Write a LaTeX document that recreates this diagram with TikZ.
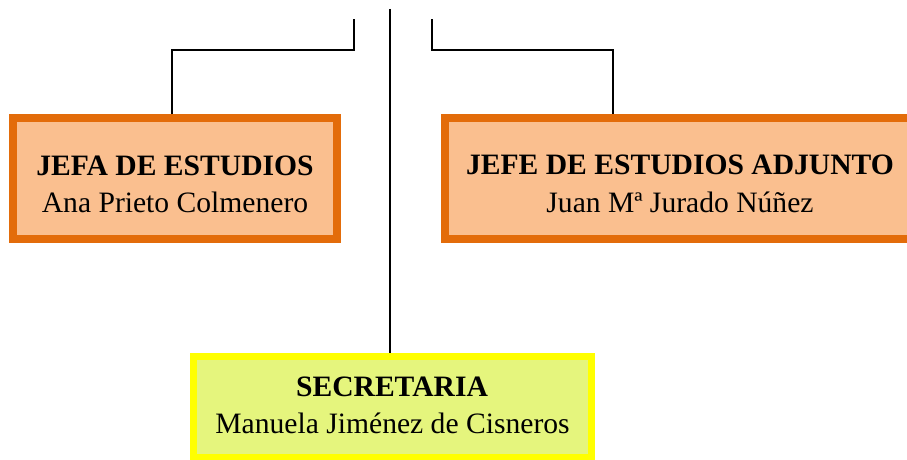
\documentclass[tikz,border=0pt]{standalone}
\usepackage{fontspec}
\setmainfont{Liberation Serif}
\definecolor{orbord}{HTML}{E36C0A}
\definecolor{orfill}{HTML}{FABF8F}
\definecolor{ylbord}{HTML}{FFFF00}
\definecolor{ylfill}{HTML}{E5F57D}
\tikzset{
  orbox/.style={draw=orbord, fill=orfill, line width=8pt, rectangle, inner sep=0pt},
  ylbox/.style={draw=ylbord, fill=ylfill, line width=7pt, rectangle, inner sep=0pt},
  ttl/.style={font=\fontsize{29.6}{35}\selectfont\bfseries, anchor=base, inner sep=0pt},
  nm/.style={font=\fontsize{29.6}{35}\selectfont, anchor=base, inner sep=0pt},
  conn/.style={draw=black, line width=1.5pt}
}
\begin{document}
\begin{tikzpicture}[x=1pt,y=1pt]
\useasboundingbox (0,0) rectangle (907,459);
% boxes (y = 459 - pixel y)
\node[orbox, minimum width=324pt, minimum height=121pt] (lb) at (175,280.5) {};
\node[orbox, minimum width=470pt, minimum height=121pt] (rb) at (680,280.5) {};
\node[ylbox, minimum width=398pt, minimum height=101pt] (sb) at (392.5,52.5) {};
% texts
\node[ttl] (lbt) at (175,284) {JEFA DE ESTUDIOS};
\node[nm]  (lbn) at (175,247) {Ana Prieto Colmenero};
\node[ttl] (rbt) at (680,285) {JEFE DE ESTUDIOS ADJUNTO};
\node[nm]  (rbn) at (680,247) {Juan Mª Jurado Núñez};
\node[ttl] (sbt) at (392,63) {SECRETARIA};
\node[nm]  (sbn) at (392.5,26) {Manuela Jiménez de Cisneros};
% connector ends
\coordinate (ltop) at (354,440);
\coordinate (rtop) at (432,440);
\coordinate (ctop) at (390,450);
\coordinate (lfoot) at (172,345);
\coordinate (rfoot) at (613,345);
% connectors
\draw[conn] (lfoot |- lb.north) -- (lfoot |- 0,409) -- (ltop |- 0,409) -- (ltop);
\draw[conn] (rfoot |- rb.north) -- (rfoot |- 0,409) -- (rtop |- 0,409) -- (rtop);
\draw[conn] (ctop) -- (ctop |- sb.north);
\end{tikzpicture}
\end{document}
